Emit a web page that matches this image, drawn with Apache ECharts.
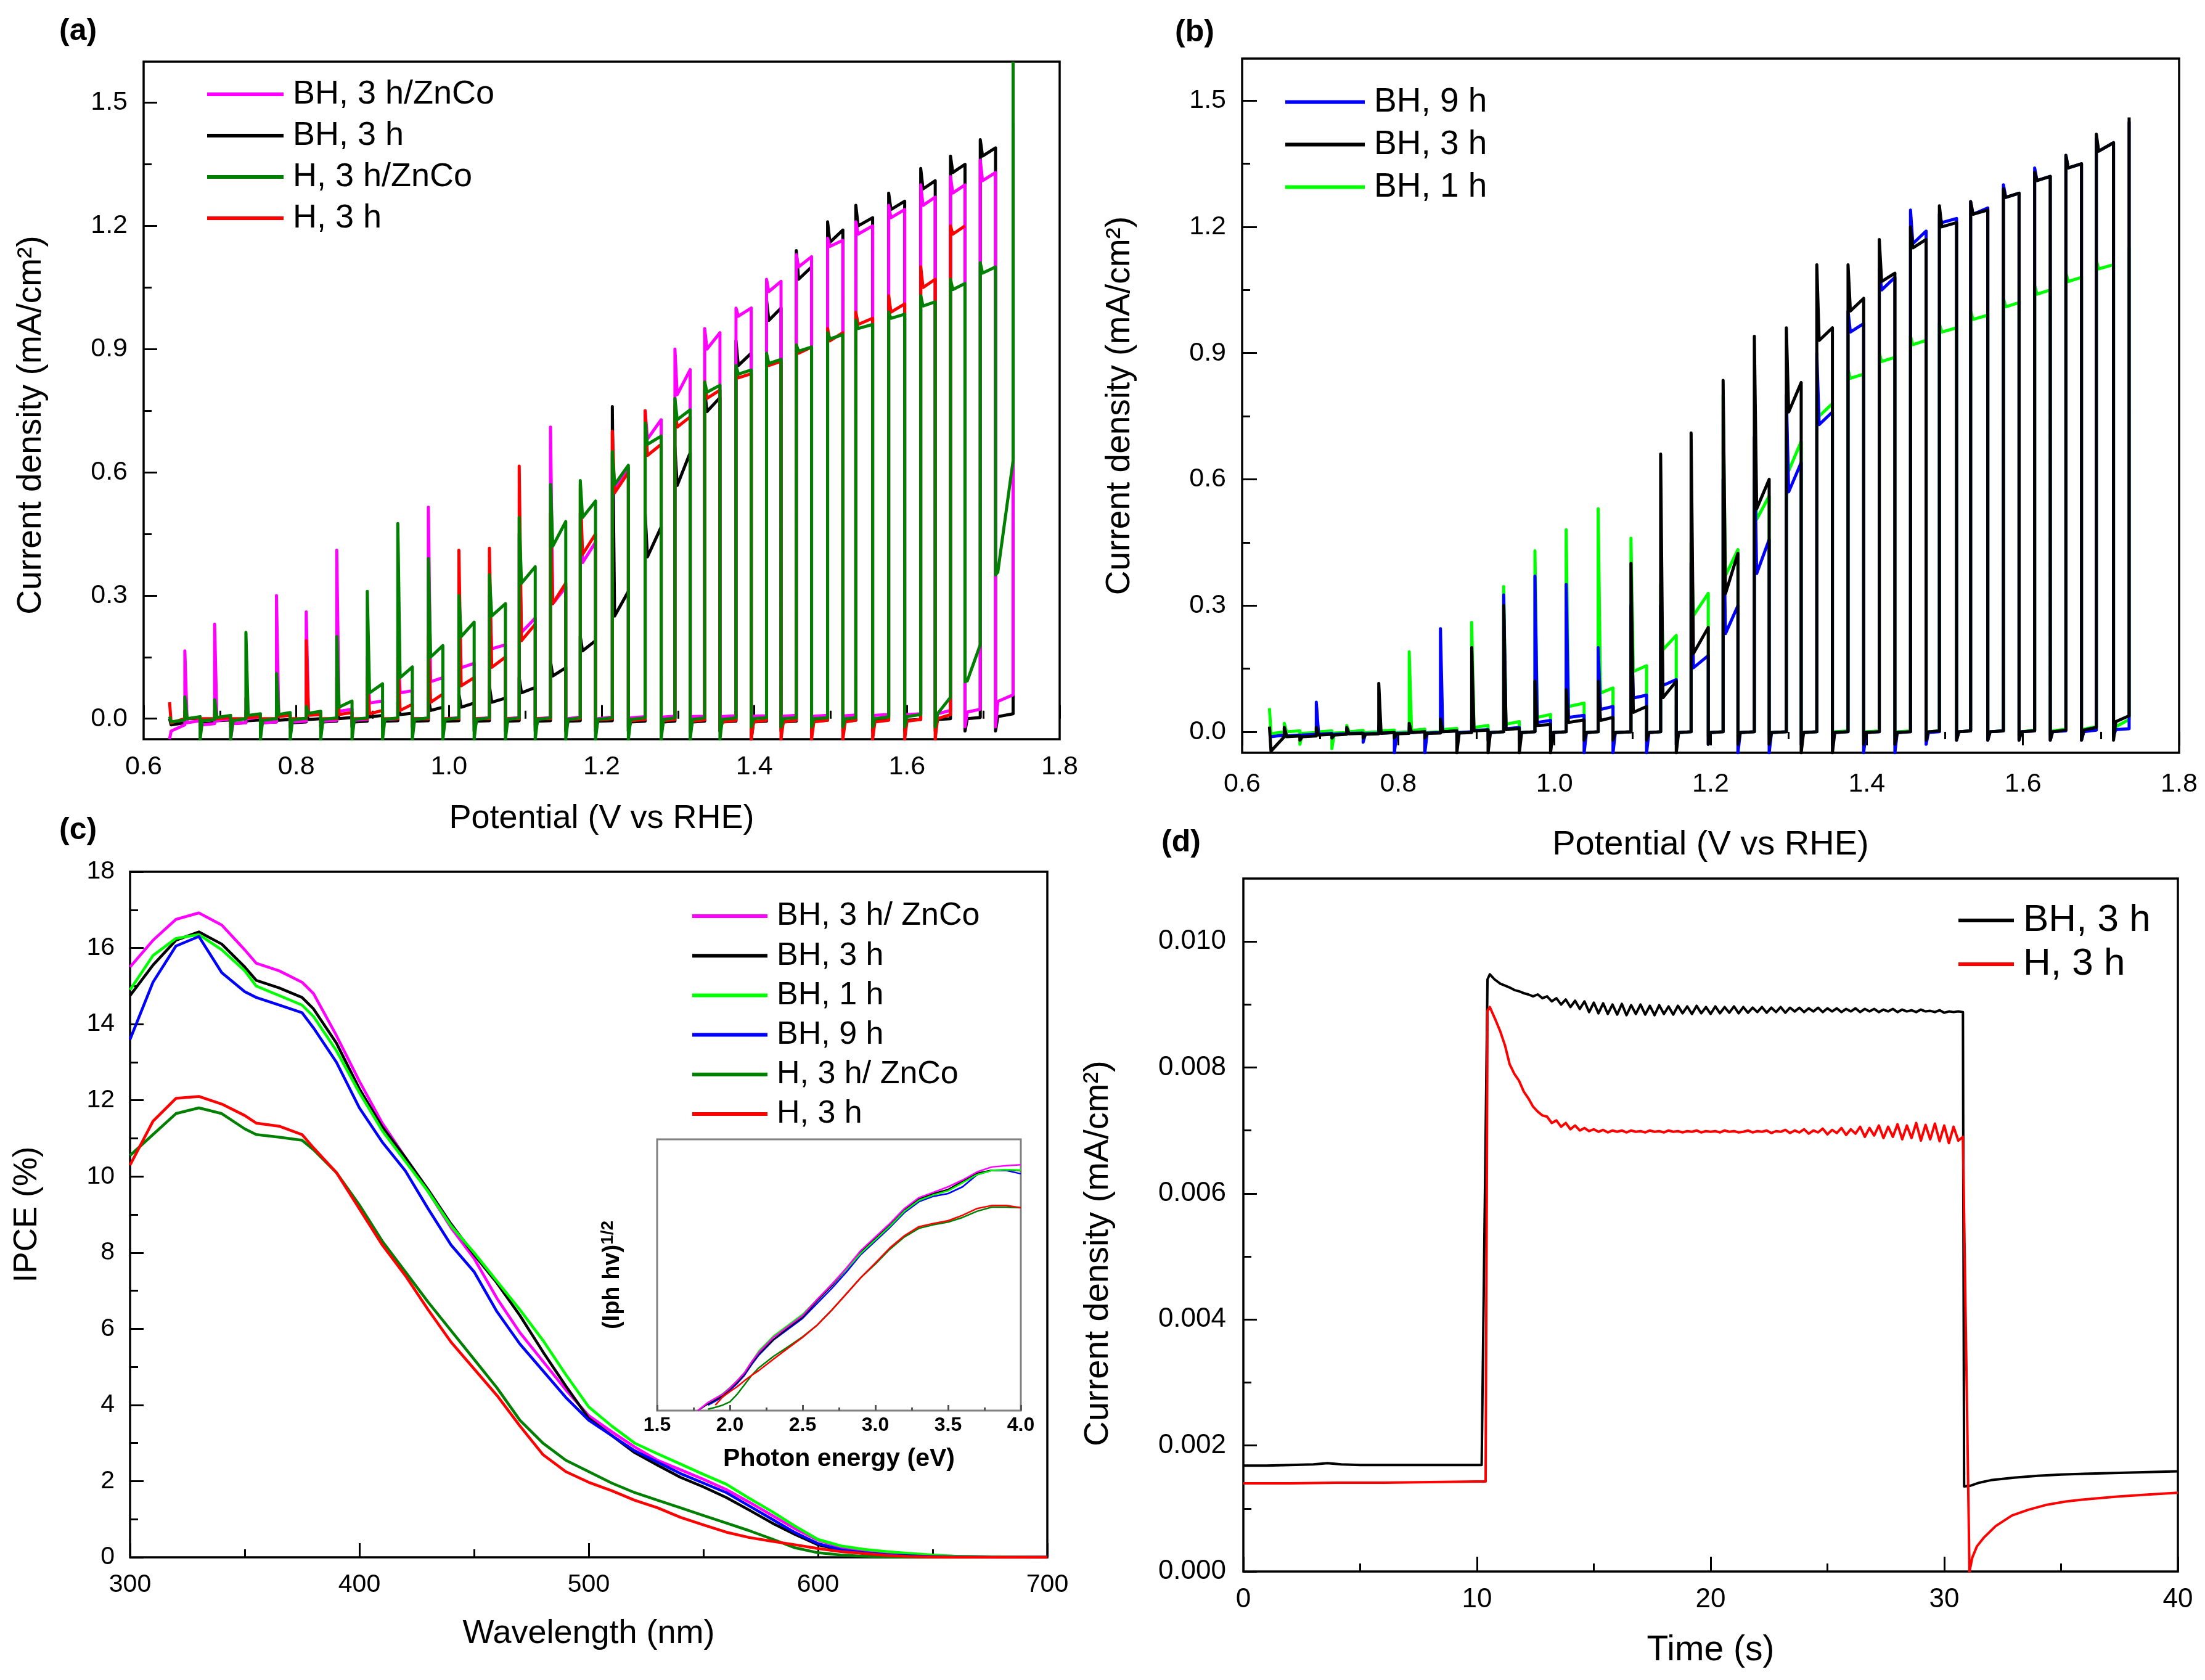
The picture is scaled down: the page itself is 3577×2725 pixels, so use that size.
<!DOCTYPE html>
<html>
<head>
<meta charset="utf-8">
<script src="https://cdn.jsdelivr.net/npm/echarts@6/dist/echarts.min.js"></script>
<style>
  html, body { margin: 0; padding: 0; background: #fff; }
  #main { width: 3577px; height: 2725px; }
</style>
</head>
<body>
<div id="main"></div>
<script>
const FONT = "'Liberation Sans', Arial, sans-serif";
const MAG = '#ff00ff', BLK = '#000000', DKG = '#008000', RED = '#ff0000', BLU = '#0000ff', LGR = '#00ff00';

// ---- (a) chopped-light LSV: light on at aOn[k], off at aOff[k] (V vs RHE)
const aStartV = 0.634;
const aOn = [0.654, 0.693, 0.734, 0.774, 0.813, 0.853, 0.893, 0.933, 0.973, 1.013, 1.053, 1.092, 1.133, 1.172,
  1.214, 1.257, 1.296, 1.335, 1.376, 1.416, 1.455, 1.496, 1.533, 1.576, 1.618, 1.657, 1.696, 1.739];
const aOff = [0.674, 0.714, 0.753, 0.792, 0.832, 0.873, 0.913, 0.952, 0.992, 1.033, 1.074, 1.113, 1.153, 1.192,
  1.235, 1.278, 1.316, 1.355, 1.396, 1.435, 1.475, 1.516, 1.555, 1.597, 1.637, 1.676, 1.716];
// start: [first point, just after, before first light-on]
// rows: [spike at light-on, light start, light end, dip at light-off, dark start, dark end]
const aMagStart = [-0.05, -0.03, -0.015];
const aMag = [
  [0.165, -0.01, -0.005, -0.02, -0.015, -0.012], [0.23, -0.005, 0.0, -0.05, -0.012, -0.01],
  [0.05, 0.0, 0.005, -0.02, -0.01, -0.008], [0.30, 0.005, 0.01, -0.02, -0.008, -0.006],
  [0.26, 0.01, 0.015, -0.02, -0.006, -0.004], [0.41, 0.018, 0.023, -0.015, -0.004, -0.002],
  [0.15, 0.038, 0.043, -0.015, -0.002, 0.0], [0.20, 0.063, 0.068, -0.015, 0.0, 0.0],
  [0.515, 0.09, 0.10, -0.015, 0.0, 0.002], [0.30, 0.124, 0.135, -0.02, 0.0, 0.002],
  [0.30, 0.17, 0.18, -0.02, 0.0, 0.003], [0.45, 0.21, 0.245, -0.02, 0.0, 0.003],
  [0.71, 0.28, 0.32, -0.02, 0.0, 0.004], [0.50, 0.38, 0.43, -0.02, 0.0, 0.004],
  [0.64, 0.56, 0.61, -0.02, 0.002, 0.005], [0.75, 0.681, 0.728, -0.02, 0.004, 0.006],
  [0.90, 0.789, 0.85, -0.02, 0.005, 0.006], [0.95, 0.90, 0.94, -0.02, 0.005, 0.007],
  [1.00, 0.98, 1.0, -0.02, 0.006, 0.007], [1.07, 1.04, 1.065, -0.02, 0.006, 0.008],
  [1.13, 1.10, 1.125, -0.02, 0.006, 0.008], [1.17, 1.15, 1.165, -0.02, 0.007, 0.009],
  [1.21, 1.18, 1.2, -0.02, 0.008, 0.01], [1.25, 1.22, 1.24, -0.02, 0.01, 0.012],
  [1.30, 1.25, 1.27, -0.02, 0.012, 0.02], [1.32, 1.28, 1.30, -0.02, 0.016, 0.023],
  [1.36, 1.31, 1.33, -0.02, 0.042, 0.058], [1.43]
];
const aBlkStart = [0.0, -0.015, -0.01];
const aBlk = [
  [0.01, 0.0, 0.0, -0.02, -0.012, -0.01], [0.01, -0.005, -0.003, -0.02, -0.012, -0.01],
  [0.01, -0.005, -0.003, -0.02, -0.01, -0.008], [0.01, -0.004, -0.002, -0.02, -0.01, -0.008],
  [0.01, -0.002, 0.0, -0.02, -0.008, -0.006], [0.02, 0.0, 0.003, -0.02, -0.008, -0.006],
  [0.03, 0.004, 0.008, -0.02, -0.006, -0.005], [0.04, 0.01, 0.013, -0.02, -0.006, -0.005],
  [0.05, 0.02, 0.028, -0.02, -0.006, -0.005], [0.06, 0.028, 0.038, -0.03, -0.006, -0.005],
  [0.08, 0.04, 0.05, -0.03, -0.006, -0.005], [0.10, 0.063, 0.076, -0.03, -0.006, -0.005],
  [0.14, 0.104, 0.124, -0.03, -0.006, -0.005], [0.20, 0.165, 0.19, -0.03, -0.006, -0.005],
  [0.76, 0.25, 0.31, -0.03, -0.008, -0.006], [0.50, 0.394, 0.467, -0.03, -0.008, -0.006],
  [0.66, 0.568, 0.648, -0.03, -0.008, -0.006], [0.80, 0.748, 0.782, -0.03, -0.008, -0.006],
  [0.92, 0.86, 0.89, -0.05, -0.008, -0.006], [1.02, 0.97, 1.0, -0.03, -0.008, -0.006],
  [1.14, 1.07, 1.1, -0.03, -0.006, -0.004], [1.21, 1.16, 1.19, -0.03, -0.006, -0.004],
  [1.25, 1.2, 1.22, -0.03, -0.004, -0.002], [1.28, 1.24, 1.26, -0.03, -0.004, -0.002],
  [1.34, 1.29, 1.31, -0.03, -0.002, 0.0], [1.37, 1.33, 1.35, -0.03, 0.0, 0.003],
  [1.41, 1.37, 1.39, -0.03, 0.005, 0.012], [1.45]
];
const aDkgStart = [0.005, -0.008, -0.003];
const aDkg = [
  [0.053, 0.0, 0.005, -0.05, -0.005, -0.002], [0.046, 0.003, 0.008, -0.05, -0.005, 0.0],
  [0.21, 0.008, 0.012, -0.05, -0.004, 0.0], [0.11, 0.01, 0.015, -0.05, -0.003, 0.001],
  [0.03, 0.013, 0.018, -0.05, -0.002, 0.002], [0.20, 0.028, 0.043, -0.05, -0.002, 0.002],
  [0.31, 0.063, 0.085, -0.05, -0.002, 0.002], [0.475, 0.10, 0.126, -0.05, -0.002, 0.002],
  [0.39, 0.15, 0.178, -0.05, -0.002, 0.002], [0.30, 0.20, 0.235, -0.05, -0.002, 0.002],
  [0.35, 0.25, 0.28, -0.05, -0.002, 0.002], [0.49, 0.33, 0.37, -0.05, -0.002, 0.002],
  [0.57, 0.42, 0.48, -0.05, -0.002, 0.002], [0.58, 0.49, 0.53, -0.05, -0.002, 0.002],
  [0.65, 0.57, 0.617, -0.05, -0.002, 0.002], [0.72, 0.668, 0.688, -0.05, -0.002, 0.002],
  [0.78, 0.728, 0.752, -0.05, -0.002, 0.002], [0.82, 0.795, 0.812, -0.05, -0.002, 0.002],
  [0.86, 0.839, 0.849, -0.02, 0.0, 0.002], [0.89, 0.865, 0.875, -0.02, 0.0, 0.002],
  [0.91, 0.895, 0.905, -0.02, 0.0, 0.002], [0.94, 0.925, 0.935, -0.02, 0.0, 0.002],
  [0.97, 0.95, 0.96, -0.02, 0.0, 0.004], [0.99, 0.975, 0.985, -0.02, 0.005, 0.01],
  [1.03, 1.005, 1.015, -0.02, 0.012, 0.052], [1.07, 1.045, 1.06, 0.09, 0.092, 0.18],
  [1.11, 1.085, 1.10, 0.35, 0.357, 0.628], [1.6]
];
const aRedStart = [0.04, -0.01, 0.0];
const aRed = [
  [0.02, 0.0, 0.002, -0.01, 0.0, 0.0], [0.02, 0.0, 0.002, -0.01, 0.0, 0.0],
  [0.02, 0.003, 0.005, -0.01, 0.0, 0.0], [0.03, 0.005, 0.008, -0.01, 0.0, 0.0],
  [0.19, 0.008, 0.01, -0.01, 0.0, 0.0], [0.10, 0.01, 0.015, -0.01, 0.0, 0.0],
  [0.10, 0.012, 0.02, -0.01, 0.0, 0.0], [0.15, 0.02, 0.035, -0.01, 0.0, 0.0],
  [0.20, 0.04, 0.06, -0.01, 0.0, 0.0], [0.41, 0.08, 0.10, -0.01, 0.0, 0.0],
  [0.415, 0.125, 0.15, -0.015, 0.0, 0.0], [0.615, 0.19, 0.23, -0.015, 0.0, 0.0],
  [0.50, 0.28, 0.33, -0.02, -0.002, 0.0], [0.57, 0.40, 0.45, -0.02, -0.003, 0.0],
  [0.70, 0.55, 0.60, -0.03, -0.005, -0.002], [0.75, 0.641, 0.668, -0.03, -0.005, -0.002],
  [0.76, 0.71, 0.735, -0.03, -0.006, -0.003], [0.82, 0.78, 0.80, -0.03, -0.008, -0.004],
  [0.85, 0.83, 0.84, -0.05, -0.008, -0.004], [0.88, 0.86, 0.87, -0.05, -0.008, -0.004],
  [0.91, 0.89, 0.905, -0.05, -0.008, -0.004], [0.95, 0.92, 0.94, -0.05, -0.008, -0.004],
  [0.99, 0.96, 0.975, -0.05, -0.008, -0.004], [1.03, 0.99, 1.01, -0.05, -0.006, -0.002],
  [1.10, 1.05, 1.07, -0.05, 0.0, 0.01], [1.2, 1.18, 1.2]
];

// ---- (b) chopped-light LSV, anneal time series
const bStartV = 0.635;
const bOn = [0.654, 0.695, 0.734, 0.775, 0.814, 0.854, 0.894, 0.935, 0.975, 1.015, 1.056, 1.098, 1.136, 1.175,
  1.216, 1.256, 1.297, 1.336, 1.376, 1.416, 1.456, 1.493, 1.533, 1.575, 1.615, 1.655, 1.694, 1.736];
const bOff = [0.674, 0.715, 0.755, 0.795, 0.834, 0.875, 0.915, 0.955, 0.995, 1.038, 1.075, 1.118, 1.156, 1.197,
  1.235, 1.275, 1.316, 1.356, 1.396, 1.436, 1.476, 1.515, 1.555, 1.595, 1.635, 1.675, 1.716];
const bLgrStart = [0.056, -0.005, 0.0];
const bLgr = [
  [0.02, 0.0, 0.002, -0.03, -0.004, -0.002], [0.02, 0.0, 0.002, -0.04, -0.003, -0.002],
  [0.015, 0.0, 0.003, -0.01, -0.002, 0.0], [0.02, 0.002, 0.004, -0.01, -0.002, 0.0],
  [0.19, 0.003, 0.006, -0.01, -0.002, 0.0], [0.05, 0.005, 0.008, -0.01, -0.002, 0.0],
  [0.26, 0.01, 0.015, -0.01, -0.002, 0.0], [0.345, 0.018, 0.024, -0.01, -0.002, 0.0],
  [0.43, 0.034, 0.041, -0.01, -0.002, 0.0], [0.48, 0.06, 0.068, -0.01, -0.002, 0.0],
  [0.53, 0.092, 0.104, -0.01, -0.002, 0.0], [0.46, 0.143, 0.157, -0.01, -0.002, 0.0],
  [0.35, 0.195, 0.229, -0.01, -0.002, 0.0], [0.45, 0.276, 0.329, -0.01, -0.002, 0.0],
  [0.80, 0.371, 0.433, -0.01, -0.002, 0.0], [0.60, 0.505, 0.56, -0.01, -0.002, 0.0],
  [0.70, 0.62, 0.69, -0.01, -0.002, 0.0], [0.80, 0.75, 0.78, -0.01, 0.0, 0.002],
  [0.86, 0.84, 0.85, -0.01, 0.0, 0.002], [0.90, 0.88, 0.89, -0.01, 0.0, 0.002],
  [0.94, 0.92, 0.93, -0.01, 0.0, 0.002], [0.97, 0.95, 0.96, -0.01, 0.0, 0.002],
  [1.0, 0.98, 0.99, -0.01, 0.0, 0.002], [1.03, 1.01, 1.02, -0.01, 0.0, 0.004],
  [1.06, 1.04, 1.05, -0.01, 0.002, 0.006], [1.09, 1.07, 1.08, -0.01, 0.006, 0.012],
  [1.12, 1.10, 1.11, -0.01, 0.012, 0.029], [1.15]
];
const bBluStart = [-0.01, -0.012, -0.008];
const bBlu = [
  [0.01, -0.01, -0.008, -0.012, -0.008, -0.006], [0.07, -0.006, -0.004, -0.012, -0.006, -0.005],
  [0.005, -0.004, -0.003, -0.025, -0.005, -0.004], [0.01, -0.003, -0.002, -0.05, -0.004, -0.003],
  [0.01, -0.002, 0.0, -0.05, -0.003, -0.002], [0.245, 0.0, 0.002, -0.02, -0.002, 0.0],
  [0.03, 0.003, 0.005, -0.02, -0.002, 0.0], [0.325, 0.007, 0.01, -0.02, -0.002, 0.0],
  [0.37, 0.022, 0.027, -0.02, -0.002, 0.0], [0.35, 0.034, 0.039, -0.05, -0.002, 0.0],
  [0.20, 0.053, 0.06, -0.05, -0.002, 0.0], [0.30, 0.08, 0.087, -0.05, -0.002, 0.0],
  [0.30, 0.11, 0.124, -0.03, -0.002, 0.0], [0.40, 0.152, 0.181, -0.03, -0.002, 0.0],
  [0.60, 0.233, 0.30, -0.05, -0.002, 0.0], [0.70, 0.376, 0.457, -0.05, -0.002, 0.0],
  [0.80, 0.57, 0.64, -0.03, -0.002, 0.0], [0.90, 0.73, 0.76, -0.03, -0.002, 0.0],
  [1.0, 0.95, 0.97, -0.05, -0.002, 0.0], [1.1, 1.05, 1.08, -0.05, -0.002, 0.0],
  [1.24, 1.16, 1.19, -0.03, -0.002, 0.0], [1.23, 1.21, 1.22, -0.02, 0.0, 0.002],
  [1.26, 1.23, 1.245, -0.02, 0.0, 0.002], [1.30, 1.27, 1.28, -0.02, 0.0, 0.002],
  [1.34, 1.31, 1.32, -0.02, 0.0, 0.002], [1.37, 1.34, 1.35, -0.02, 0.0, 0.004],
  [1.41, 1.38, 1.40, -0.01, 0.005, 0.007], [1.45]
];
const bBlkStart = [0.012, -0.046, -0.012];
const bBlk = [
  [0.01, -0.012, -0.01, -0.02, -0.012, -0.01], [0.01, -0.008, -0.006, -0.015, -0.008, -0.006],
  [0.01, -0.005, -0.004, -0.015, -0.006, -0.005], [0.115, -0.004, -0.002, -0.015, -0.005, -0.004],
  [0.02, -0.002, 0.0, -0.015, -0.004, -0.003], [0.03, 0.0, 0.002, -0.05, -0.003, -0.002],
  [0.20, 0.002, 0.004, -0.05, -0.002, 0.0], [0.30, 0.005, 0.008, -0.05, -0.002, 0.0],
  [0.12, 0.015, 0.017, -0.05, -0.002, 0.0], [0.10, 0.022, 0.028, -0.02, -0.002, 0.0],
  [0.12, 0.027, 0.034, -0.02, -0.002, 0.0], [0.40, 0.046, 0.06, -0.02, -0.002, 0.0],
  [0.66, 0.081, 0.12, -0.05, -0.002, 0.0], [0.71, 0.186, 0.248, -0.03, -0.002, 0.0],
  [0.835, 0.328, 0.424, -0.03, -0.002, 0.0], [0.94, 0.53, 0.60, -0.03, -0.002, 0.0],
  [0.96, 0.76, 0.83, -0.05, -0.002, 0.0], [1.11, 0.93, 0.96, -0.05, -0.002, 0.0],
  [1.11, 1.0, 1.03, -0.03, -0.002, 0.0], [1.17, 1.07, 1.09, -0.03, -0.002, 0.0],
  [1.20, 1.15, 1.17, -0.02, 0.0, 0.002], [1.25, 1.2, 1.21, -0.02, 0.0, 0.002],
  [1.26, 1.23, 1.24, -0.02, 0.0, 0.002], [1.29, 1.27, 1.28, -0.02, 0.0, 0.002],
  [1.33, 1.31, 1.32, -0.02, 0.0, 0.004], [1.37, 1.34, 1.35, -0.02, 0.004, 0.01],
  [1.42, 1.38, 1.40, -0.02, 0.024, 0.038], [1.46]
];

// ---- (c) IPCE (%) vs wavelength (nm)
const ipceWl = [300, 310, 320, 330, 340, 350, 355, 365, 375, 380, 390, 400, 410, 420, 430, 440, 450, 460, 470, 480,
  490, 500, 510, 520, 530, 540, 550, 560, 570, 580, 590, 600, 610, 620, 630, 640, 650, 660, 680, 700];
const cMag = [15.5, 16.2, 16.75, 16.92, 16.6, 15.95, 15.6, 15.4, 15.1, 14.8, 13.7, 12.5, 11.4, 10.5, 9.6, 8.65, 7.85, 6.8, 5.9, 5.15,
  4.4, 3.72, 3.3, 2.9, 2.55, 2.3, 2.05, 1.78, 1.45, 1.1, 0.75, 0.45, 0.26, 0.15, 0.09, 0.06, 0.04, 0.03, 0.01, 0.01];
const cBlk = [14.75, 15.55, 16.2, 16.42, 16.1, 15.5, 15.15, 14.95, 14.7, 14.4, 13.5, 12.3, 11.3, 10.5, 9.65, 8.75, 7.95, 7.2, 6.35, 5.4,
  4.5, 3.65, 3.2, 2.75, 2.42, 2.1, 1.85, 1.57, 1.24, 0.9, 0.6, 0.33, 0.18, 0.1, 0.05, 0.03, 0.02, 0.01, 0, 0];
const cLgr = [14.9, 15.8, 16.25, 16.35, 15.95, 15.4, 15.0, 14.75, 14.5, 14.2, 13.3, 12.2, 11.2, 10.4, 9.6, 8.7, 8.0, 7.25, 6.5, 5.7,
  4.8, 3.95, 3.45, 3.0, 2.72, 2.45, 2.18, 1.92, 1.55, 1.2, 0.82, 0.47, 0.3, 0.21, 0.15, 0.1, 0.06, 0.03, 0.01, 0];
const cBlu = [13.6, 15.1, 16.05, 16.3, 15.35, 14.85, 14.7, 14.5, 14.3, 13.9, 13.0, 11.8, 10.9, 10.15, 9.15, 8.2, 7.5, 6.45, 5.6, 4.9,
  4.2, 3.6, 3.2, 2.8, 2.5, 2.2, 1.95, 1.7, 1.35, 1.0, 0.65, 0.36, 0.2, 0.12, 0.07, 0.04, 0.02, 0.01, 0, 0];
const cDkg = [10.55, 11.1, 11.65, 11.8, 11.65, 11.25, 11.1, 11.03, 10.95, 10.7, 10.1, 9.25, 8.3, 7.5, 6.7, 5.95, 5.2, 4.45, 3.6, 3.0,
  2.55, 2.25, 1.95, 1.7, 1.5, 1.3, 1.1, 0.9, 0.7, 0.48, 0.25, 0.12, 0.06, 0.03, 0.01, 0, 0, 0, 0, 0];
const cRed = [10.3, 11.45, 12.05, 12.1, 11.9, 11.6, 11.4, 11.32, 11.1, 10.75, 10.1, 9.15, 8.2, 7.4, 6.5, 5.65, 4.95, 4.25, 3.45, 2.7,
  2.25, 1.97, 1.75, 1.5, 1.3, 1.05, 0.85, 0.66, 0.52, 0.42, 0.33, 0.23, 0.15, 0.1, 0.05, 0.02, 0.01, 0, 0, 0];

// ---- (c) inset: (Iph hv)^1/2 vs photon energy (eV), arbitrary units
const insE = [1.78, 1.85, 1.9, 1.95, 2.0, 2.05, 2.1, 2.15, 2.2, 2.3, 2.4, 2.5, 2.6, 2.7, 2.8, 2.9, 3.0, 3.1, 3.2, 3.3,
  3.4, 3.5, 3.6, 3.7, 3.8, 3.9, 4.0];
const insMag = [0, 0.03, 0.045, 0.06, 0.083, 0.11, 0.139, 0.18, 0.215, 0.27, 0.31, 0.35, 0.41, 0.465, 0.525, 0.59, 0.64, 0.69, 0.745, 0.785,
  0.805, 0.825, 0.85, 0.88, 0.898, 0.903, 0.906];
const insBlk = [0, 0.025, 0.04, 0.055, 0.08, 0.105, 0.135, 0.175, 0.21, 0.262, 0.305, 0.345, 0.405, 0.46, 0.52, 0.585, 0.635, 0.685, 0.74, 0.78,
  0.8, 0.815, 0.845, 0.875, 0.886, 0.887, 0.885];
const insLgr = [null, 0.03, 0.045, 0.062, 0.085, 0.11, 0.14, 0.18, 0.22, 0.275, 0.315, 0.355, 0.41, 0.465, 0.52, 0.58, 0.63, 0.68, 0.735, 0.775,
  0.795, 0.81, 0.84, 0.87, 0.885, 0.888, 0.887];
const insBlu = [null, 0.02, 0.035, 0.05, 0.075, 0.1, 0.13, 0.17, 0.205, 0.26, 0.3, 0.34, 0.395, 0.45, 0.51, 0.575, 0.625, 0.675, 0.73, 0.77,
  0.79, 0.80, 0.825, 0.87, 0.885, 0.885, 0.873];
const insDkg = [null, 0.005, 0.012, 0.02, 0.032, 0.06, 0.095, 0.13, 0.158, 0.2, 0.235, 0.272, 0.315, 0.37, 0.43, 0.49, 0.54, 0.595, 0.64, 0.672,
  0.685, 0.695, 0.712, 0.735, 0.75, 0.75, 0.748];
const insRed = [null, null, 0.02, 0.05, 0.07, 0.088, 0.11, 0.13, 0.148, 0.19, 0.23, 0.27, 0.315, 0.37, 0.43, 0.49, 0.544, 0.6, 0.645, 0.678,
  0.69, 0.7, 0.72, 0.745, 0.756, 0.756, 0.748];

// ---- (d) transient photocurrent (mA/cm2) vs time (s)
const dBlkPre = [[0, 0.00168], [1, 0.00168], [2, 0.00169], [3, 0.0017], [3.6, 0.00172], [4.2, 0.0017], [5, 0.00169],
  [7, 0.00169], [9, 0.00169], [10.2, 0.00169], [10.45, 0.0094], [10.55, 0.00948], [10.75, 0.0094]];
const dRedPre = [[0, 0.0014], [2, 0.0014], [4, 0.00141], [6, 0.00141], [8, 0.00142], [10, 0.00143], [10.37, 0.00143],
  [10.45, 0.0089], [10.55, 0.00896], [10.8, 0.00875]];
// light-on plateau sampled every 0.2 s from 11.0 s to 30.8 s
const dOnT0 = 11.0, dOnStep = 0.2;
const dBlkOn = [
  0.00933, 0.00930, 0.00927, 0.00923, 0.00921, 0.00918, 0.00916, 0.00913, 0.00916, 0.00910,
  0.00913, 0.00905, 0.00910, 0.00900, 0.00908, 0.00896, 0.00906, 0.00893, 0.00905, 0.00888,
  0.00903, 0.00886, 0.00902, 0.00885, 0.00900, 0.00884, 0.00901, 0.00883, 0.00899, 0.00885,
  0.00900, 0.00884, 0.00898, 0.00883, 0.00899, 0.00885, 0.00897, 0.00884, 0.00898, 0.00886,
  0.00897, 0.00885, 0.00898, 0.00886, 0.00896, 0.00885, 0.00897, 0.00886, 0.00896, 0.00887,
  0.00897, 0.00886, 0.00896, 0.00887, 0.00895, 0.00888, 0.00896, 0.00887, 0.00895, 0.00888,
  0.00896, 0.00887, 0.00895, 0.00889, 0.00895, 0.00888, 0.00894, 0.00889, 0.00895, 0.00888,
  0.00894, 0.00889, 0.00894, 0.00888, 0.00893, 0.00889, 0.00894, 0.00888, 0.00893, 0.00889,
  0.00893, 0.00888, 0.00892, 0.00889, 0.00893, 0.00888, 0.00892, 0.00889, 0.00891, 0.00888,
  0.00892, 0.00889, 0.00890, 0.00888, 0.00891, 0.00887, 0.00889, 0.00888, 0.00889, 0.00888];
const dRedOn = [
  0.00857, 0.00835, 0.00805, 0.00790, 0.00779, 0.00762, 0.00751, 0.00738, 0.00730, 0.00724,
  0.00722, 0.00712, 0.00716, 0.00706, 0.00712, 0.00702, 0.00708, 0.00700, 0.00704, 0.00699,
  0.00702, 0.00698, 0.00701, 0.00697, 0.00700, 0.00698, 0.00700, 0.00697, 0.00700, 0.00698,
  0.00699, 0.00697, 0.00700, 0.00698, 0.00699, 0.00697, 0.00700, 0.00698, 0.00699, 0.00697,
  0.00699, 0.00698, 0.00700, 0.00697, 0.00699, 0.00698, 0.00699, 0.00697, 0.00700, 0.00698,
  0.00699, 0.00697, 0.00698, 0.00700, 0.00697, 0.00699, 0.00698, 0.00700, 0.00696, 0.00699,
  0.00698, 0.00701, 0.00696, 0.00700, 0.00697, 0.00702, 0.00695, 0.00700, 0.00697, 0.00703,
  0.00694, 0.00701, 0.00696, 0.00704, 0.00693, 0.00702, 0.00695, 0.00706, 0.00690, 0.00704,
  0.00692, 0.00708, 0.00688, 0.00706, 0.00690, 0.00710, 0.00686, 0.00708, 0.00688, 0.00712,
  0.00684, 0.00709, 0.00686, 0.00711, 0.00683, 0.00708, 0.00680, 0.00706, 0.00684, 0.00690];
const dBlkPost = [[30.85, 0.00135], [31.1, 0.00136], [31.5, 0.00141], [32, 0.00145], [33, 0.00149], [34, 0.00152],
  [35, 0.00154], [36, 0.00155], [37, 0.00156], [38, 0.00157], [39, 0.00158], [40, 0.00159]];
const dRedPost = [[31.08, 0.0], [31.2, 0.00022], [31.4, 0.0004], [31.7, 0.00054], [32.2, 0.00072], [32.9, 0.00089],
  [33.6, 0.00098], [34.4, 0.00106], [35.2, 0.00111], [35.9, 0.00114], [37.4, 0.00119], [38.7, 0.00122], [40, 0.00125]];

// ---------- helpers
function chop(onV, offV, v0, start, rows) {
  const pts = [[v0, start[0]], [v0 + 0.002, start[1]], [onV[0], start[2]]];
  rows.forEach(function (r, k) {
    pts.push([onV[k], r[0]]);
    if (r.length < 3) return;
    pts.push([onV[k] + 0.003, r[1]], [offV[k], r[2]]);
    if (r.length < 6) return;
    pts.push([offV[k], r[3]], [offV[k] + 0.003, r[4]], [onV[k + 1], r[5]]);
  });
  return pts;
}
function zip(xs, ys) { return xs.map(function (x, i) { return [x, ys[i]]; }); }
function plateau(vals) { return vals.map(function (v, i) { return [+(dOnT0 + i * dOnStep).toFixed(1), v]; }); }

function line(name, color, width, ax, data) {
  return {
    type: 'line', name: name, xAxisIndex: ax, yAxisIndex: ax, data: data,
    symbol: 'none', showSymbol: false, color: color, connectNulls: false,
    lineStyle: { color: color, width: width, join: 'round' }, itemStyle: { color: color },
    animation: false, silent: true
  };
}

const txt = { fontFamily: FONT, color: '#000' };

// main axis + minor-tick twin on the same side
function axes(dim, grid, min, max, major, minor, o) {
  const base = {
    type: 'value', gridIndex: grid, min: min, max: max, position: dim === 'x' ? 'bottom' : 'left',
    splitLine: { show: false }, axisLine: { show: false }, nameMoveOverlap: false
  };
  const main = Object.assign({}, base, {
    axisTick: { show: o.ticks !== false, inside: o.inside, length: o.tick, customValues: major,
      lineStyle: { color: o.tickColor || '#000', width: 3 } },
    axisLabel: { show: o.labels !== false, customValues: major, margin: o.margin,
      formatter: function (v) { return v.toFixed(o.dec); },
      fontSize: o.font, fontWeight: o.weight || 'normal', fontFamily: FONT, color: '#000' },
    name: o.name || '', nameLocation: 'middle', nameGap: o.gap || 0, nameRotate: dim === 'y' ? 90 : 0,
    nameTextStyle: Object.assign({ fontSize: o.nameFont || 54, fontWeight: o.weight || 'normal' }, txt,
      o.rich ? { rich: o.rich } : {}, o.namePad ? { padding: o.namePad } : {})
  });
  const mnr = Object.assign({}, base, {
    axisTick: { show: o.ticks !== false, inside: o.inside, length: o.minorTick, customValues: minor,
      lineStyle: { color: o.tickColor || '#000', width: 3 } },
    axisLabel: { show: false }
  });
  return [main, mnr];
}

const CD = 'Current density (mA/cm²)';
const potMajor = [0.6, 0.8, 1.0, 1.2, 1.4, 1.6, 1.8], potMinor = [0.7, 0.9, 1.1, 1.3, 1.5, 1.7];
const jMajor = [0, 0.3, 0.6, 0.9, 1.2, 1.5], jMinor = [0.15, 0.45, 0.75, 1.05, 1.35];

const xAxes = [].concat(
  axes('x', 0, 0.6, 1.8, potMajor, potMinor, { inside: true, tick: 22, minorTick: 13, margin: 24, dec: 1, font: 43, name: 'Potential (V vs RHE)', gap: 102 }),
  axes('x', 1, 0.6, 1.8, potMajor, potMinor, { inside: false, tick: 22, minorTick: 12, margin: 30, dec: 1, font: 43, name: 'Potential (V vs RHE)', nameFont: 56, gap: 122 }),
  axes('x', 2, 300, 700, [300, 400, 500, 600, 700], [350, 450, 550, 650], { inside: true, tick: 23, minorTick: 13, margin: 24, dec: 0, font: 41, name: 'Wavelength (nm)', gap: 97 }),
  axes('x', 3, 0, 40, [0, 10, 20, 30, 40], [5, 15, 25, 35], { inside: true, tick: 24, minorTick: 13, margin: 24, dec: 0, font: 44, name: 'Time (s)', nameFont: 57, gap: 100 }),
  axes('x', 4, 1.5, 4.0, [1.5, 2.0, 2.5, 3.0, 3.5, 4.0], [1.75, 2.25, 2.75, 3.25, 3.75], { inside: true, tick: 9, minorTick: 5, margin: 8, dec: 1, font: 32, weight: 'bold', tickColor: '#555', name: 'Photon energy (eV)', nameFont: 41, gap: 58 })
);
const yAxes = [].concat(
  axes('y', 0, -0.05, 1.6, jMajor, jMinor, { inside: true, tick: 22, minorTick: 13, margin: 26, dec: 1, font: 43, name: CD, nameFont: 55, gap: 155, namePad: [0, 80, 0, 0] }),
  axes('y', 1, -0.05, 1.6, jMajor, jMinor, { inside: true, tick: 24, minorTick: 13, margin: 26, dec: 1, font: 43, name: CD, nameFont: 55, gap: 171 }),
  axes('y', 2, 0, 18, [0, 2, 4, 6, 8, 10, 12, 14, 16, 18], [1, 3, 5, 7, 9, 11, 13, 15, 17], { inside: true, tick: 22, minorTick: 13, margin: 25, dec: 0, font: 41, name: 'IPCE (%)', nameFont: 53, gap: 140 }),
  axes('y', 3, 0, 0.011, [0, 0.002, 0.004, 0.006, 0.008, 0.010], [0.001, 0.003, 0.005, 0.007, 0.009], { inside: true, tick: 22, minorTick: 13, margin: 28, dec: 3, font: 44, name: CD, nameFont: 56, gap: 207, namePad: [0, 92, 0, 0] }),
  axes('y', 4, 0, 1, [], [], { ticks: false, labels: false, dec: 0, font: 30, weight: 'bold', name: '(Iph hv){s|1/2}', nameFont: 38, gap: 50,
    rich: { s: { fontSize: 28, fontWeight: 'bold', fontFamily: FONT, padding: [0, 0, 16, 0] } } })
);

const series = [
  line('BH, 3 h', BLK, 5, 0, chop(aOn, aOff, aStartV, aBlkStart, aBlk)),
  line('BH, 3 h/ZnCo', MAG, 5, 0, chop(aOn, aOff, aStartV, aMagStart, aMag)),
  line('H, 3 h', RED, 5, 0, chop(aOn, aOff, aStartV, aRedStart, aRed)),
  line('H, 3 h/ZnCo', DKG, 5, 0, chop(aOn, aOff, aStartV, aDkgStart, aDkg)),

  line('BH, 1 h', LGR, 5, 2, chop(bOn, bOff, bStartV, bLgrStart, bLgr)),
  line('BH, 9 h', BLU, 5, 2, chop(bOn, bOff, bStartV, bBluStart, bBlu)),
  line('BH, 3 h', BLK, 5, 2, chop(bOn, bOff, bStartV, bBlkStart, bBlk)),

  line('BH, 3 h/ ZnCo', MAG, 4.5, 4, zip(ipceWl, cMag)),
  line('BH, 3 h', BLK, 4.5, 4, zip(ipceWl, cBlk)),
  line('BH, 1 h', LGR, 4.5, 4, zip(ipceWl, cLgr)),
  line('BH, 9 h', BLU, 4.5, 4, zip(ipceWl, cBlu)),
  line('H, 3 h/ ZnCo', DKG, 4.5, 4, zip(ipceWl, cDkg)),
  line('H, 3 h', RED, 4.5, 4, zip(ipceWl, cRed)),

  line('BH, 3 h', BLK, 4, 6, dBlkPre.concat(plateau(dBlkOn), dBlkPost)),
  line('H, 3 h', RED, 4, 6, dRedPre.concat(plateau(dRedOn), [[30.8, 0.0069]], dRedPost)),

  line('i-BH9', BLU, 2.5, 8, zip(insE, insBlu)),
  line('i-BH3', BLK, 2.5, 8, zip(insE, insBlk)),
  line('i-BH1', LGR, 2.5, 8, zip(insE, insLgr)),
  line('i-BHZ', MAG, 2.5, 8, zip(insE, insMag)),
  line('i-HZ', DKG, 2.5, 8, zip(insE, insDkg)),
  line('i-H3', RED, 2.5, 8, zip(insE, insRed))
];

function legend(names, left, top, font, lineW, gap) {
  return {
    data: names, orient: 'vertical', left: left, top: top, padding: 0,
    icon: 'rect', itemWidth: lineW, itemHeight: 6, itemGap: gap, selectedMode: false,
    textStyle: { fontSize: font, fontFamily: FONT, color: '#000', padding: [0, 0, 0, 10] }
  };
}

function panelTitle(t, left, top) {
  return { text: t, left: left, top: top, padding: 0, textStyle: { fontSize: 50, fontWeight: 'bold', fontFamily: FONT, color: '#000' } };
}

const box = { show: true, borderColor: '#000', borderWidth: 3.5, backgroundColor: 'transparent', containLabel: false, outerBoundsMode: 'none' };

const option = {
  backgroundColor: '#ffffff',
  animation: false,
  title: [panelTitle('(a)', 96, 26), panelTitle('(b)', 1906, 28), panelTitle('(c)', 96, 1322), panelTitle('(d)', 1884, 1342)],
  grid: [
    Object.assign({ left: 233, top: 100, width: 1486, height: 1099 }, box),
    Object.assign({ left: 2015, top: 95, width: 1520, height: 1126 }, box),
    Object.assign({ left: 211, top: 1414, width: 1488, height: 1112 }, box),
    Object.assign({ left: 2017, top: 1425, width: 1516, height: 1124 }, box),
    Object.assign({}, box, { left: 1066, top: 1848, width: 590, height: 440, borderColor: '#808080', borderWidth: 3, backgroundColor: '#fff' })
  ],
  legend: [
    legend(['BH, 3 h/ZnCo', 'BH, 3 h', 'H, 3 h/ZnCo', 'H, 3 h'], 336, 126, 54, 124, 13),
    legend(['BH, 9 h', 'BH, 3 h', 'BH, 1 h'], 2085, 138, 55, 129, 14),
    legend(['BH, 3 h/ ZnCo', 'BH, 3 h', 'BH, 1 h', 'BH, 9 h', 'H, 3 h/ ZnCo', 'H, 3 h'], 1123, 1460, 52, 122, 12.2),
    legend(['BH, 3 h', 'H, 3 h'], 3177, 1462, 62, 90, 9)
  ],
  xAxis: xAxes,
  yAxis: yAxes,
  series: series
};

const chart = echarts.init(document.getElementById('main'), null, { renderer: 'canvas', width: 3577, height: 2725 });
chart.setOption(option);
</script>
</body>
</html>
